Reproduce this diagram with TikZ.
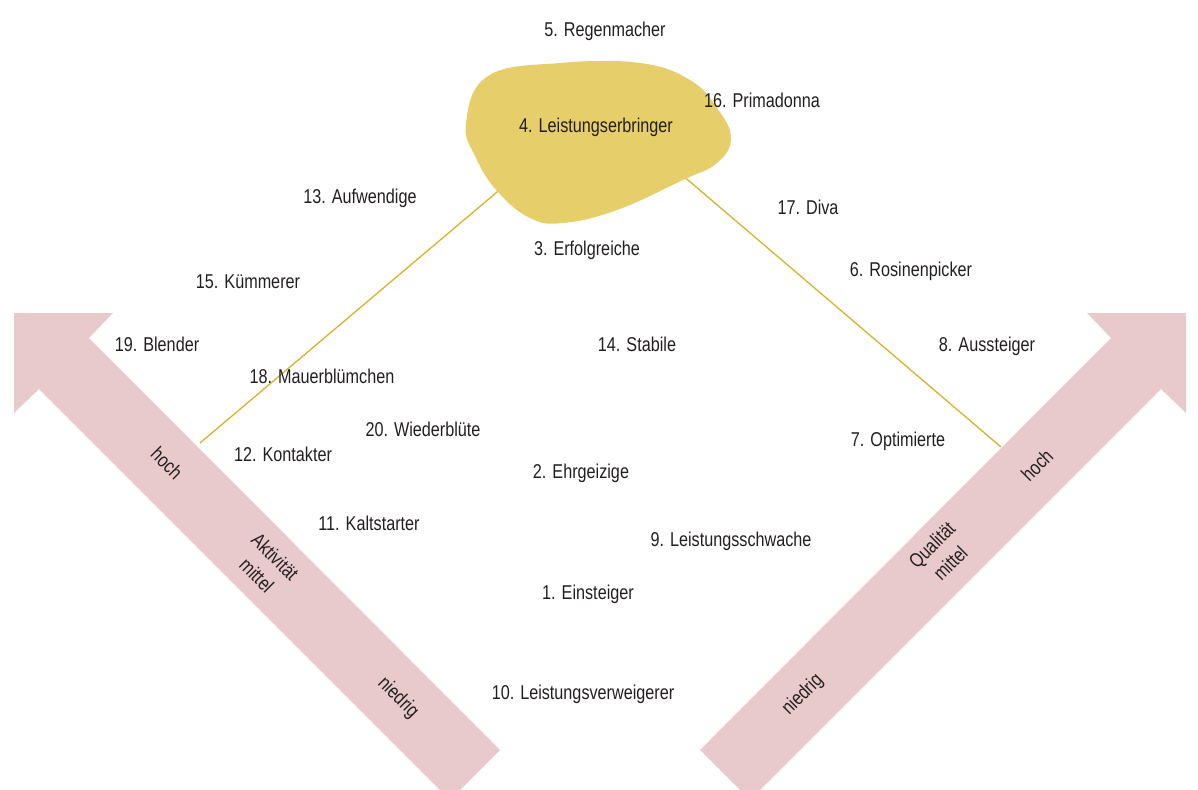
\documentclass[tikz,border=0pt]{standalone}
\usepackage{fontspec}
\setmainfont[FakeStretch=0.81]{Liberation Sans}
\usetikzlibrary{positioning}
\definecolor{axispink}{HTML}{E8CACC}
\definecolor{blobgold}{HTML}{E6CE6A}
\definecolor{linegold}{HTML}{DDB02A}
\definecolor{inktext}{HTML}{231F20}

\begin{document}
\begin{tikzpicture}[x=1pt,y=-1pt]
    \tikzset{
      typ/.style = {inktext, font=\fontsize{20}{24}\selectfont, inner sep=0pt, anchor=base},
      axislabel/.style = {inktext, font=\fontsize{20}{26}\selectfont, inner sep=0pt, align=center},
      axisarrow/.style = {fill=axispink},
      bond/.style = {linegold, line width=1.3pt},
    }
    \useasboundingbox (0,0) rectangle (1198,789);

    % the two axes, cut off at the lower edge
    \begin{scope}
        \clip (0,0) rectangle (1198,789);
        \fill[axisarrow] (14,313) -- (113,313) -- (89,338) -- (500,750)
            -- (450,800) -- (39,389) -- (14,413) -- cycle;
        \fill[axisarrow] (1186,313) -- (1087,313) -- (1111,338) -- (700,750)
            -- (750,800) -- (1161,389) -- (1186,413) -- cycle;
    \end{scope}

    \node[axislabel, rotate=-45] (activity high) at (167,463) {hoch};
    \node[axislabel, rotate=-45] (activity mid) at (266,566) {Aktivität\\mittel};
    \node[axislabel, rotate=-45] (activity low) at (398,698) {niedrig};

    \node[axislabel, rotate=45] (quality high) at (1037,465) {hoch};
    \node[axislabel, rotate=45] (quality mid) at (941,554) {Qualität\\mittel};
    \node[axislabel, rotate=45] (quality low) at (803,695) {niedrig};

    % lines from the high ends up to the top type
    \coordinate (peak) at (600,105);
    \coordinate (activity top) at (200,443);
    \coordinate (quality top) at (1001,447);
    \draw[bond] (activity top) -- (peak);
    \draw[bond] (quality top) -- (peak);

    \fill[blobgold] plot[smooth cycle, tension=0.7] coordinates {
        (466,123) (488,76) (560,63) (640,63) (690,80) (717,108) (731,138)
        (717,163) (683,180) (617,210) (563,223) (530,218) (498,192) (476,158)};

    \foreach \n/\txt/\pos in {
        5/Regenmacher/{(605,37)},
        16/Primadonna/{(762,108)},
        4/Leistungserbringer/{(596,132)},
        13/Aufwendige/{(360,203)},
        17/Diva/{(808,214)},
        3/Erfolgreiche/{(587,255)},
        15/Kümmerer/{(248,288)},
        6/Rosinenpicker/{(911,276)},
        19/Blender/{(157,351)},
        14/Stabile/{(637,351)},
        8/Aussteiger/{(987,351)},
        18/Mauerblümchen/{(322,383)},
        20/Wiederblüte/{(423,436)},
        7/Optimierte/{(898,446)},
        12/Kontakter/{(283,461)},
        2/Ehrgeizige/{(581,478)},
        11/Kaltstarter/{(369,530)},
        9/Leistungsschwache/{(731,546)},
        1/Einsteiger/{(588,599)},
        10/Leistungsverweigerer/{(583,699)}}
        \node[typ] (type-\n) at \pos {\n. \txt};
\end{tikzpicture}
\end{document}
